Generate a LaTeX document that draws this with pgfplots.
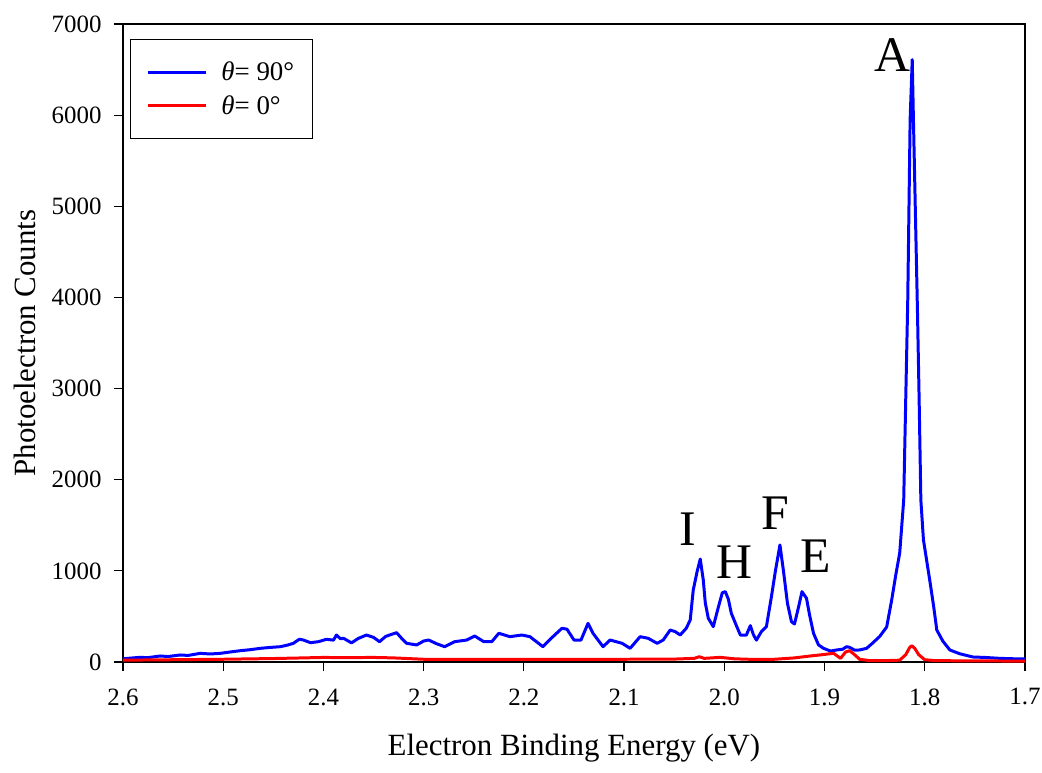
\documentclass[border=0pt]{standalone}
\usepackage{pgfplots}
\pgfplotsset{compat=1.18}
\usepackage{fontspec}
\setmainfont{Liberation Serif}
\definecolor{myblue}{RGB}{0,0,255}
\definecolor{myred}{RGB}{255,0,0}
\begin{document}
\begin{tikzpicture}[x=1bp,y=1bp]
\begin{axis}[
  name=main,
  scale only axis,
  width=902bp, height=638bp,
  x dir=reverse,
  xmin=1.7, xmax=2.6,
  ymin=0, ymax=7000,
  xtick={1.7,1.8,...,2.6},
  ytick={0,1000,...,7000},
  xticklabel style={/pgf/number format/.cd,fixed,fixed zerofill,precision=1,/tikz/.cd,yshift=-14bp},
  yticklabel style={/pgf/number format/.cd,fixed,1000 sep={},/tikz/.cd,xshift=-9bp},
  /pgf/number format/assume math mode=true,
  tick label style={font=\fontsize{25}{28}\selectfont},
  label style={font=\fontsize{31}{34}\selectfont},
  tick align=outside,
  tick pos=left,
  major tick length=9bp,
  axis line style={line width=1.2pt},
  every tick/.style={line width=1.2pt,black},
  xlabel={Electron Binding Energy (eV)},
  ylabel={Photoelectron Counts},
  xlabel style={at={(axis description cs:0.5,-0.1348)},anchor=center},
  ylabel style={at={(axis description cs:-0.1086,0.5)},anchor=center},
  legend style={at={(axis description cs:0.0078,0.977)},anchor=north west,
    font=\fontsize{27}{30}\selectfont, draw=black, line width=0.8pt,
    inner xsep=16bp, inner ysep=21bp, row sep=9bp,
    /tikz/every odd column/.append style={column sep=12bp}},
  legend cell align=left,
  legend image code/.code={\draw[#1,line width=3pt] (0bp,0bp) -- (58bp,0bp);},
  clip=true,
]
\addplot[myblue, line width=3pt, line join=round] coordinates {
(2.600,35) (2.590,45) (2.583,51) (2.575,48) (2.563,66) (2.555,60) (2.543,77) (2.535,72)
(2.523,95) (2.513,88) (2.503,95) (2.493,110) (2.483,124) (2.473,135) (2.463,150) (2.453,160)
(2.443,168) (2.436,185) (2.430,205) (2.424,250) (2.420,241) (2.413,212) (2.405,223) (2.397,249)
(2.390,240) (2.387,296) (2.383,255) (2.380,260) (2.372,210) (2.365,260) (2.357,296) (2.350,270)
(2.344,223) (2.338,280) (2.333,300) (2.327,322) (2.322,260) (2.317,205) (2.307,187) (2.300,230)
(2.295,241) (2.287,200) (2.279,168) (2.269,223) (2.257,241) (2.249,285) (2.240,223) (2.232,223)
(2.225,315) (2.214,278) (2.202,296) (2.194,278) (2.181,168) (2.171,278) (2.162,370) (2.157,360)
(2.150,241) (2.143,241) (2.136,424) (2.131,315) (2.121,168) (2.114,241) (2.102,205) (2.094,150)
(2.084,278) (2.076,260) (2.067,205) (2.061,241) (2.054,351) (2.049,333) (2.044,296) (2.038,370)
(2.034,461) (2.031,790) (2.027,1000) (2.024,1130) (2.021,900) (2.019,650) (2.016,480) (2.011,388)
(2.006,600) (2.002,760) (1.999,772) (1.996,690) (1.993,534) (1.988,400) (1.984,296) (1.978,296)
(1.974,399) (1.971,300) (1.968,240) (1.963,333) (1.958,388) (1.953,717) (1.949,1000) (1.9445,1284)
(1.941,1000) (1.937,644) (1.933,442) (1.930,417) (1.926,600) (1.9225,772) (1.918,699) (1.915,520)
(1.911,315) (1.906,187) (1.901,150) (1.894,120) (1.888,132) (1.882,140) (1.878,168) (1.875,161)
(1.870,130) (1.865,132) (1.858,150) (1.852,208) (1.845,280) (1.838,384) (1.833,680) (1.829,950)
(1.825,1196) (1.821,1777) (1.819,2875) (1.817,3950) (1.8146,5950) (1.8125,6610) (1.8113,5950) (1.8073,3860)
(1.8056,2875) (1.8039,1777) (1.8013,1339) (1.7946,867) (1.791,600) (1.788,351) (1.782,230) (1.775,132)
(1.765,90) (1.752,55) (1.740,50) (1.725,40) (1.710,35) (1.700,33)
};
\addlegendentry{\textit{θ}= 90°}
\addplot[myred, line width=3pt, line join=round] coordinates {
(2.600,20) (2.550,25) (2.500,30) (2.450,38) (2.420,45) (2.400,50) (2.380,48) (2.350,50)
(2.330,45) (2.300,30) (2.250,30) (2.200,28) (2.150,28) (2.100,30) (2.050,32) (2.030,40)
(2.025,58) (2.020,40) (2.004,51) (1.990,35) (1.970,28) (1.950,30) (1.930,45) (1.915,65)
(1.905,77) (1.895,90) (1.891,95) (1.884,40) (1.879,110) (1.875,124) (1.870,80) (1.865,30)
(1.855,15) (1.840,15) (1.825,20) (1.819,80) (1.815,160) (1.813,179) (1.810,150) (1.806,80)
(1.800,25) (1.790,15) (1.750,12) (1.700,10)
};
\addlegendentry{\textit{θ}= 0°}
\node[font=\fontsize{50}{52}\selectfont] at (axis cs:1.832,6655) {A};
\node[font=\fontsize{50}{52}\selectfont] at (axis cs:2.0366,1454) {I};
\node[font=\fontsize{50}{52}\selectfont] at (axis cs:1.9902,1092) {H};
\node[font=\fontsize{50}{52}\selectfont] at (axis cs:1.9493,1629) {F};
\node[font=\fontsize{50}{52}\selectfont] at (axis cs:1.9084,1158) {E};
\end{axis}
\pgfresetboundingbox
\useasboundingbox (-123bp,-111bp) rectangle (919bp,662bp);
\end{tikzpicture}
\end{document}
